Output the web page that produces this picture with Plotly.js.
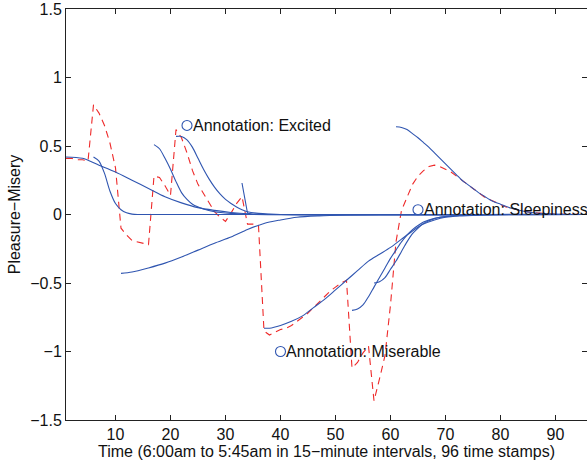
<!DOCTYPE html>
<html>
<head>
<meta charset="utf-8">
<script src="https://cdn.plot.ly/plotly-3.0.1.min.js"></script>
<style>html,body{margin:0;padding:0;background:#fff;}#chart{width:587px;height:468px;}</style>
</head>
<body>
<div id="chart"></div>
<script>
// Red dashed series: observed values at each of the 96 time stamps
const redX = Array.from({length: 96}, (_, i) => i + 1);
const redY = [0.41,0.41,0.40,0.40,0.39,0.80,0.74,0.65,0.52,0.34,
  -0.10,-0.15,-0.19,-0.20,-0.21,-0.22,0.28,0.27,0.21,0.14,
  0.62,0.56,0.45,0.32,0.22,0.15,0.08,0.02,-0.02,-0.05,
  0.01,0.08,0.13,-0.07,-0.07,-0.08,-0.85,-0.88,-0.86,-0.84,
  -0.83,-0.81,-0.78,-0.75,-0.72,-0.68,-0.64,-0.60,-0.56,-0.53,
  -0.50,-0.48,-1.12,-1.08,-1.01,-0.96,-1.36,-1.20,-1.03,-0.66,
  -0.20,0.03,0.13,0.22,0.28,0.32,0.35,0.36,0.35,0.33,
  0.31,0.28,0.25,0.22,0.19,0.16,0.13,0.11,0.09,0.07,
  0.055,0.045,0.035,0.025,0.018,0.013,0.009,0.006,0.004,0.003,
  0.002,0.001,0.001,0,0,0];

// Blue fitted decay curves (x, y pairs)
const c1x = [1,4,7,10,13,16,19,22,25,28,31,34,40,96];
const c1y = [0.42,0.41,0.36,0.31,0.25,0.19,0.13,0.085,0.05,0.03,0.015,0.005,0,0];
const c2x = [6,7,8,9,10,11,12,13,14,96];
const c2y = [0.42,0.39,0.30,0.17,0.08,0.035,0.012,0.003,0,0];
const c3x = [17,18,19,20,21,22,23,24,26,28,31,35,96];
const c3y = [0.51,0.48,0.41,0.33,0.24,0.16,0.11,0.075,0.04,0.02,0.008,0,0];
const c4x = [21,22,23,24,25,26,27,28,29,30,31,32,33,34,36,40,96];
const c4y = [0.57,0.57,0.545,0.49,0.41,0.33,0.26,0.20,0.15,0.11,0.08,0.055,0.035,0.02,0.008,0,0];
const c5x = [33,34,35,96];
const c5y = [0.23,0.01,0,0];
const c6x = [11,13,16,19,22,25,28,31,34,37,40,43,47,52,58,96];
const c6y = [-0.43,-0.42,-0.39,-0.355,-0.31,-0.26,-0.21,-0.165,-0.11,-0.065,-0.04,-0.02,-0.01,-0.004,0,0];
const c7x = [37,38,40,42,44,46,48,50,52,54,56,58,60,62,64,66,68,70,73,77,82,96];
const c7y = [-0.83,-0.83,-0.81,-0.78,-0.74,-0.68,-0.62,-0.55,-0.48,-0.41,-0.34,-0.29,-0.24,-0.18,-0.12,-0.07,-0.04,-0.02,-0.01,-0.003,0,0];
const c8x = [53,54,55,56,57,58,59,60,61,62,63,64,65,66,68,71,75,80,96];
const c8y = [-0.70,-0.69,-0.66,-0.60,-0.53,-0.46,-0.39,-0.32,-0.26,-0.20,-0.15,-0.11,-0.08,-0.055,-0.028,-0.012,-0.004,0,0];
const c9x = [57,58,59,60,61,62,63,64,65,66,67,69,72,77,96];
const c9y = [-0.50,-0.49,-0.46,-0.40,-0.34,-0.27,-0.20,-0.14,-0.10,-0.065,-0.045,-0.02,-0.008,0,0];
const c10x = [61,62,63,64,65,66,67,68,69,70,71,72,73,74,75,76,77,78,79,80,82,84,86,88,91,96];
const c10y = [0.64,0.635,0.62,0.59,0.56,0.525,0.49,0.45,0.41,0.37,0.33,0.29,0.25,0.22,0.19,0.16,0.135,0.11,0.09,0.075,0.045,0.025,0.013,0.007,0.002,0];

// Annotations
const annX = [23, 65, 40];
const annY = [0.65, 0.035, -1.0];
const annText = ['Annotation: Excited', 'Annotation: Sleepiness', 'Annotation: Miserable'];

// Axis ticks
const yTicks = [-1.5, -1, -0.5, 0, 0.5, 1, 1.5];
const xTicks = [10, 20, 30, 40, 50, 60, 70, 80, 90];

const BLUE = '#2f55b0';
const RED = '#ee2a2a';
const FONT = 'Liberation Sans, Arial, sans-serif';
const FS = 16;

const blueSets = [[c1x,c1y],[c2x,c2y],[c3x,c3y],[c4x,c4y],[c6x,c6y],[c7x,c7y],[c8x,c8y],[c9x,c9y],[c10x,c10y]];
const traces = [];
traces.push({x: redX, y: redY, mode: 'lines', line: {color: RED, width: 1.1, dash: '7px,5px'}, hoverinfo: 'skip'});
blueSets.forEach(([x, y]) => traces.push({x, y, mode: 'lines', line: {color: BLUE, width: 1.1, shape: 'spline', smoothing: 0.8}, hoverinfo: 'skip'}));
traces.push({x: c5x, y: c5y, mode: 'lines', line: {color: BLUE, width: 1.1}, hoverinfo: 'skip'});
traces.push({x: annX, y: annY, mode: 'markers',
  marker: {symbol: 'circle-open', size: 10, color: BLUE, line: {width: 1.1, color: BLUE}},
  cliponaxis: false, hoverinfo: 'skip'});
traces.push({x: [1], y: [0], yaxis: 'y2', mode: 'markers', marker: {opacity: 0}, hoverinfo: 'skip'});

const annotations = annX.map((x, i) => ({
  x, y: annY[i], text: annText[i], showarrow: false, xanchor: 'left', yanchor: 'middle', xshift: 4,
  font: {family: FONT, size: FS, color: '#111'}
}));

const layout = {
  width: 587, height: 468,
  margin: {l: 66, r: 0, t: 9, b: 48},
  paper_bgcolor: '#fff', plot_bgcolor: '#fff',
  showlegend: false,
  font: {family: FONT, size: FS, color: '#111'},
  annotations,
  xaxis: {range: [1, 95.73], tickvals: xTicks, ticks: 'inside', ticklen: 5, tickcolor: '#222',
    showline: true, linecolor: '#222', linewidth: 1, mirror: 'ticks', showgrid: false, zeroline: false,
    tickfont: {family: FONT, size: FS, color: '#111'},
    title: {text: 'Time (6:00am to 5:45am in 15\u2212minute intervals, 96 time stamps)', font: {family: FONT, size: FS, color: '#111'}, standoff: 1}},
  yaxis: {range: [-1.5, 1.5], tickvals: yTicks, ticks: 'inside', ticklen: 5, tickcolor: '#222',
    showline: true, linecolor: '#222', linewidth: 1, showgrid: false, zeroline: false,
    tickfont: {family: FONT, size: FS, color: '#111'},
    title: {text: 'Pleasure\u2212Misery', font: {family: FONT, size: FS, color: '#111'}, standoff: 5}},
  yaxis2: {range: [-1.5, 1.5], tickvals: yTicks, overlaying: 'y', side: 'right', ticks: 'inside', ticklen: 5,
    tickcolor: '#222', showline: false, showgrid: false, zeroline: false, showticklabels: false}
};

Plotly.newPlot('chart', traces, layout, {staticPlot: true});
</script>
</body>
</html>
